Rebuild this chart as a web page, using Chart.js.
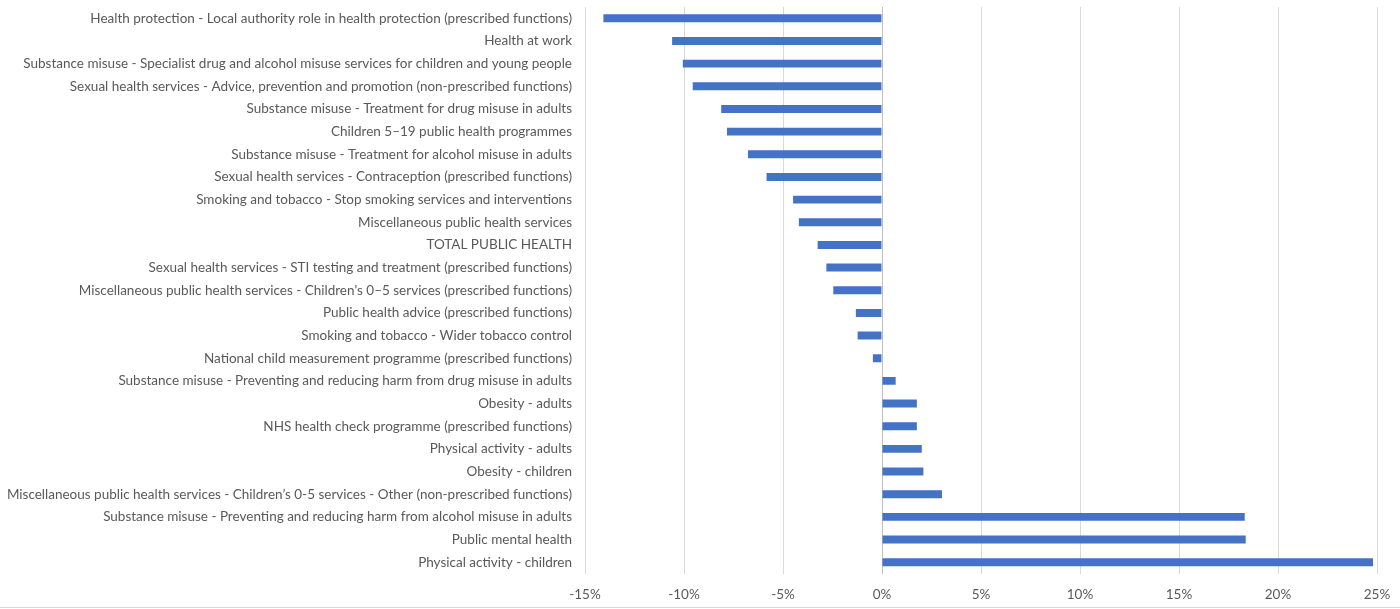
<!DOCTYPE html>
<html>
<head>
<meta charset="utf-8">
<script src="https://cdn.jsdelivr.net/npm/chart.js@4/dist/chart.umd.min.js"></script>
<style>
html,body{margin:0;padding:0;background:#fff;}
#wrap{position:relative;width:1400px;height:609px;}
</style>
</head>
<body>
<div id="wrap"><canvas id="c" width="1400" height="609"></canvas></div>
<script>
const categories = [
  "Health protection - Local authority role in health protection (prescribed functions)",
  "Health at work",
  "Substance misuse - Specialist drug and alcohol misuse services for children and young people",
  "Sexual health services - Advice, prevention and promotion (non-prescribed functions)",
  "Substance misuse - Treatment for drug misuse in adults",
  "Children 5\u201319 public health programmes",
  "Substance misuse - Treatment for alcohol misuse in adults",
  "Sexual health services - Contraception (prescribed functions)",
  "Smoking and tobacco - Stop smoking services and interventions",
  "Miscellaneous public health services",
  "TOTAL PUBLIC HEALTH",
  "Sexual health services - STI testing and treatment (prescribed functions)",
  "Miscellaneous public health services - Children's 0\u20135 services (prescribed functions)",
  "Public health advice (prescribed functions)",
  "Smoking and tobacco - Wider tobacco control",
  "National child measurement programme (prescribed functions)",
  "Substance misuse - Preventing and reducing harm from drug misuse in adults",
  "Obesity - adults",
  "NHS health check programme (prescribed functions)",
  "Physical activity - adults",
  "Obesity - children",
  "Miscellaneous public health services - Children\u2019s 0-5 services - Other (non-prescribed functions)",
  "Substance misuse - Preventing and reducing harm from alcohol misuse in adults",
  "Public mental health",
  "Physical activity - children"
];
const changePct = [
  -14.07, -10.6, -10.06, -9.56, -8.12, -7.83, -6.77, -5.83, -4.49, -4.2,
  -3.25, -2.81, -2.46, -1.32, -1.23, -0.46, 0.69, 1.76, 1.76, 2.01,
  2.09, 3.03, 18.32, 18.37, 24.8
];
const xTickValues = [-15, -10, -5, 0, 5, 10, 15, 20, 25];

const FONT = "Lato, 'Open Sans', sans-serif";
const bottomBorder = {
  id: 'bottomBorder',
  afterDraw(chart) {
    const ctx = chart.ctx;
    ctx.save();
    ctx.strokeStyle = '#d9d9d9';
    ctx.lineWidth = 1;
    ctx.beginPath();
    ctx.moveTo(0, 607.5);
    ctx.lineTo(1400, 607.5);
    ctx.stroke();
    ctx.restore();
  }
};

new Chart(document.getElementById('c'), {
  type: 'bar',
  data: {
    labels: categories,
    datasets: [{
      data: changePct,
      backgroundColor: '#4472C4',
      borderWidth: 0,
      barPercentage: 0.7,
      categoryPercentage: 0.5
    }]
  },
  options: {
    indexAxis: 'y',
    responsive: false,
    animation: false,
    maintainAspectRatio: false,
    layout: { padding: { top: 7, right: 23, bottom: 0, left: 0 } },
    plugins: { legend: { display: false }, tooltip: { enabled: false } },
    scales: {
      x: {
        type: 'linear',
        min: -15,
        max: 25,
        afterBuildTicks(axis) { axis.ticks = xTickValues.map(v => ({ value: v })); },
        afterFit(axis) { axis.height = 35.5; axis.paddingLeft = 0; axis.paddingRight = 0; },
        grid: {
          color: ctx => (ctx.tick && ctx.tick.value === 0) ? '#bfbfbf' : '#d9d9d9',
          lineWidth: 1,
          drawTicks: false
        },
        border: { display: false },
        ticks: {
          padding: 13,
          color: '#595959',
          font: { family: FONT, size: 13.5 },
          callback: v => v + '%'
        }
      },
      y: {
        afterFit(axis) { axis.width = 585; axis.paddingTop = 0; axis.paddingBottom = 0; },
        grid: { display: false, drawTicks: false },
        border: { display: false },
        ticks: {
          padding: 13,
          color: '#595959',
          autoSkip: false,
          font: { family: FONT, size: 13.5 }
        }
      }
    }
  },
  plugins: [bottomBorder]
});
</script>
</body>
</html>
